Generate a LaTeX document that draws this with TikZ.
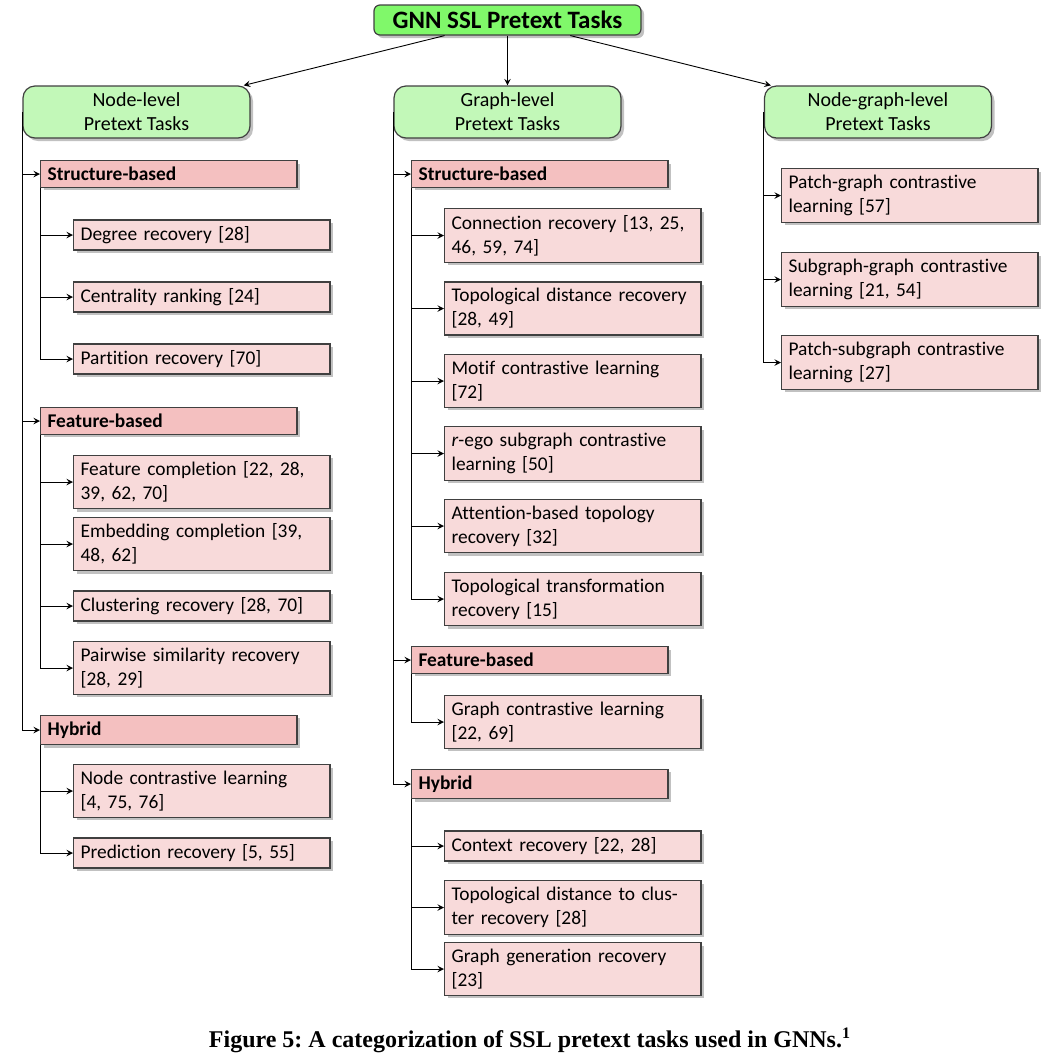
\documentclass[tikz,border=0pt]{standalone}
\usepackage{fontspec}
\setmainfont[Ligatures=NoCommon]{Carlito}
\newfontfamily\capfont{Liberation Serif}
\usetikzlibrary{shadows}
\definecolor{rootgreen}{RGB}{128,248,106}
\definecolor{lvlgreen}{RGB}{194,248,184}
\definecolor{catpink}{RGB}{244,192,192}
\definecolor{leafpink}{RGB}{248,218,218}
\newcommand\boxfont{\fontsize{9.7}{12}\selectfont}
\frenchspacing
\begin{document}
\begin{tikzpicture}[x=0.5pt, y=-0.5pt, >=stealth,
  boxshadow/.style={drop shadow={shadow xshift=1.5pt, shadow yshift=-1.5pt, fill=black!35, opacity=0.7}},
  rootbox/.style={draw=black!75, line width=0.6pt, fill=rootgreen, rounded corners=3pt, minimum width=133.5pt, minimum height=15pt, inner sep=1pt, font=\fontsize{12.5}{14}\selectfont\bfseries, boxshadow},
  levelbox/.style={draw=black!75, line width=0.6pt, fill=lvlgreen, rounded corners=6pt, minimum width=113.5pt, minimum height=26pt, inner sep=1pt, align=center, font=\fontsize{10}{12}\selectfont, boxshadow},
  catbox/.style={draw=black!75, line width=0.6pt, fill=catpink, anchor=west, text width=121.2pt, inner xsep=3.5pt, inner ysep=3.2pt, align=left, font=\boxfont\bfseries, boxshadow},
  leafbox/.style={catbox, fill=leafpink, font=\boxfont},
  link/.style={->, line width=0.45pt}]
\useasboundingbox (0,0) rectangle (1054,1056);

% top of the tree
\node[rootbox] (root) at (507.5,20) {GNN SSL Pretext Tasks};
\node[levelbox] (nodelvl) at (136.5,112) {Node-level\\Pretext Tasks};
\node[levelbox] (graphlvl) at (507.5,112) {Graph-level\\Pretext Tasks};
\node[levelbox] (nglvl) at (878,112) {Node-graph-level\\Pretext Tasks};
\draw[link] (root) -- (nodelvl);
\draw[link] (root) -- (graphlvl);
\draw[link] (root) -- (nglvl);

% node-level column
\node[catbox] (nstruct) at (40,174) {Structure-based};
\node[leafbox] (ndeg) at (73,235) {Degree recovery [28]};
\node[leafbox] (ncent) at (73,297) {Centrality ranking [24]};
\node[leafbox] (npart) at (73,359) {Partition recovery [70]};
\node[catbox] (nfeat) at (40,421) {Feature-based};
\node[leafbox] (nfcomp) at (73,482) {Feature completion [22, 28,\\39, 62, 70]};
\node[leafbox] (necomp) at (73,544) {Embedding completion [39,\\48, 62]};
\node[leafbox] (nclust) at (73,606) {Clustering recovery [28, 70]};
\node[leafbox] (npair) at (73,668) {Pairwise similarity recovery\\{}[28, 29]};
\node[catbox] (nhyb) at (40,730) {Hybrid};
\node[leafbox] (ncontr) at (73,791) {Node contrastive learning\\{}[4, 75, 76]};
\node[leafbox] (npred) at (73,853) {Prediction recovery [5, 55]};

\foreach \c in {nstruct,nfeat,nhyb}
  \draw[link] (nodelvl.west) |- (\c.west);
\foreach \c in {ndeg,ncent,npart}
  \draw[link] (nstruct.south west) |- (\c.west);
\foreach \c in {nfcomp,necomp,nclust,npair}
  \draw[link] (nfeat.south west) |- (\c.west);
\foreach \c in {ncontr,npred}
  \draw[link] (nhyb.south west) |- (\c.west);

% graph-level column
\node[catbox] (gstruct) at (411,174) {Structure-based};
\node[leafbox] (gconn) at (444,235.5) {Connection recovery [13, 25,\\46, 59, 74]};
\node[leafbox] (gtopo) at (444,308.5) {Topological distance recovery\\{}[28, 49]};
\node[leafbox] (gmotif) at (444,381) {Motif contrastive learning\\{}[72]};
\node[leafbox] (grego) at (444,453.5) {\textit{r}-ego subgraph contrastive\\learning [50]};
\node[leafbox] (gatt) at (444,526) {Attention-based topology\\recovery [32]};
\node[leafbox] (gtrans) at (444,599) {Topological transformation\\recovery [15]};
\node[catbox] (gfeat) at (411,660) {Feature-based};
\node[leafbox] (ggcl) at (444,722) {Graph contrastive learning\\{}[22, 69]};
\node[catbox] (ghyb) at (411,784) {Hybrid};
\node[leafbox] (gctx) at (444,846) {Context recovery [22, 28]};
\node[leafbox] (gclus) at (444,907.5) {Topological distance to clus-\\ter recovery [28]};
\node[leafbox] (ggen) at (444,969) {Graph generation recovery\\{}[23]};

\foreach \c in {gstruct,gfeat,ghyb}
  \draw[link] (graphlvl.west) |- (\c.west);
\foreach \c in {gconn,gtopo,gmotif,grego,gatt,gtrans}
  \draw[link] (gstruct.south west) |- (\c.west);
\draw[link] (gfeat.south west) |- (ggcl.west);
\foreach \c in {gctx,gclus,ggen}
  \draw[link] (ghyb.south west) |- (\c.west);

% node-graph-level column
\node[leafbox] (ngpatch) at (781,195.5) {Patch-graph contrastive\\learning [57]};
\node[leafbox] (ngsub) at (781,279.5) {Subgraph-graph contrastive\\learning [21, 54]};
\node[leafbox] (ngps) at (781,362.5) {Patch-subgraph contrastive\\learning [27]};
\foreach \c in {ngpatch,ngsub,ngps}
  \draw[link] (nglvl.west) |- (\c.west);

\node[font=\capfont\fontsize{12}{14}\selectfont\bfseries] (caption) at (530,1040)
  {Figure 5: A categorization of SSL pretext tasks used in GNNs.\textsuperscript{1}};
\end{tikzpicture}
\end{document}
